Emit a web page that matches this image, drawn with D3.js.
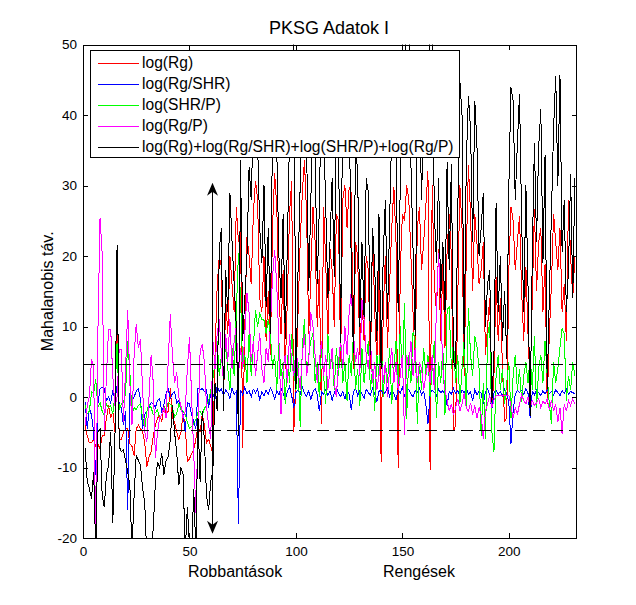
<!DOCTYPE html>
<html><head><meta charset="utf-8">
<script src="https://cdn.jsdelivr.net/npm/d3@7"></script>
<style>
body{margin:0;background:#fff}
svg{display:block}
text{font-family:"Liberation Sans",Arial,Helvetica,sans-serif;fill:#000}
</style>
</head><body>
<svg id="chart" width="636" height="605"></svg>
<script>
// ---------------- data ----------------
const title = "PKSG Adatok I";
const yLabel = "Mahalanobis táv.";
const groupLabels = ["Robbantások", "Rengések"];
const seriesNames = ["log(Rg)", "log(Rg/SHR)", "log(SHR/P)", "log(Rg/P)", "log(Rg)+log(Rg/SHR)+log(SHR/P)+log(Rg/P)"];
const seriesColors = ["#ff0000", "#0000ff", "#00ff00", "#ff00ff", "#000000"];
const xTicks = [0, 50, 100, 150, 200];
const yTicks = [-20, -10, 0, 10, 20, 30, 40, 50];
const xDomain = [0, 232];
const yDomain = [-20, 50];
const thresholds = [4.7, -4.7];
const boundaryX = 60.6;
const arrowSpan = [-19.4, 30.4];
const groupLabelX = [71.4, 157.8];

const logRg = [
-4,-5.5,-6.5,-6.5,-6,-7,-6.7,-7.3,-5.5,-5.5,
-3,-1.2,-3,-2,-5,13.8,-6,-6,-5,-4.5,
-4.5,-6.6,-7,-8.3,-4.5,-4,-4.5,-5,-6.5,-9.9,
-8.5,-7.8,-5.5,-4,-3,-2.6,-3.5,-1.2,-2.5,-2,
1.2,-3,-3.5,-5,-6,-5,-2.5,-4,-9.2,-8.8,
-8,-7.5,-6,-4,-5,-2.5,-4,-6.5,-6,-7,
-8,6,15.6,20,18.5,-1,14,9,20,16,
12,27,22,24,-7.3,10,22.7,20,16,26,
30.7,28,14,12,20,8,15,6,24,31.7,
27,14,9,18,4,14,26,30.7,-5,2,
12,22,29,33.6,26,9,17,27,22,10,
18,-3.8,27,19,8,21,18,10,26,25,
5,28,30,24,29.8,29,4,22,20,6,
14,8,20,18,4,24,12,5,18,-9.2,
12,20,7,16,24,29.8,22,-10,18,26,
25,30,28,20,12,5,24,27,18,22,
27,32,-10.4,30,16,12,21,8,19,7,
21,26,20,-4.8,-4,14,30,24,3,20,
32.9,26,15,26,22,16,18,22,6,10,
14,-2,3,17,8,14,4,-3.4,-3,18,
27,25,18,22,25.7,15,8,18.5,9,1.4,
14,26.6,15,22,24,12,18.9,-1,9,16,
26,22,18,24,12,16,8,28,20,14,
20];

const logRgSHR = [
-0.7,-4.5,-1.5,-2.6,-5,-11,-1,1.1,1.4,1.2,
-0.5,0,-0.8,1,-0.5,1.6,-1,-1.5,-4,-2,
-16,0.5,-0.5,0,0.8,1.2,-0.3,-4.5,-2.5,-2,
-1.5,-0.8,-1,-1.5,-0.5,-0.2,-2.2,-1,0.5,1.2,
-0.2,0.5,0.8,-0.8,-0.5,-1.5,-2.5,-5,-0.8,-1,
-2.5,-3.5,-4.5,1.2,1,1.2,0.8,1,-1.5,0.5,
0.5,-0.3,1.5,0.8,1.2,0.2,1,0.6,-0.2,1.3,
0.4,0.8,-18,1,0.3,1.4,0.5,0.9,0,1.1,
0.6,1.2,-0.5,0.8,0.2,1,0.4,1.3,0.7,-0.3,
0.9,0.3,1.2,0.5,-0.5,0.8,1.5,0.2,-1.5,0.6,
1,0.4,1.4,0.6,0.1,0.9,-0.4,0.7,1.2,0.3,
-2,0.8,0.4,1.1,0.2,0.9,-0.5,0.6,1.3,0.5,
0.1,0.8,-0.3,1,0.4,-1.8,0.7,1.2,0.2,0.9,
0.5,-0.2,1.1,0.6,0.3,1.2,0.4,-0.6,0.8,1,
0.3,0.7,1.3,0.1,0.9,0.5,-0.4,1,0.6,1.4,
0.2,0.8,1.1,0.4,0,0.9,0.6,1.2,0.3,0.8,
-1,-3.8,0.5,1,0.7,0.2,1.1,0.6,0.9,0.3,
-1.2,0.8,0.4,1.2,0.5,0.9,0.2,1,0.6,1.3,
0.4,0.8,-0.6,1.1,0.3,0.9,0.5,-1,0.7,1.2,
0.2,-1.8,0.6,1,0.4,0.8,0.2,1.1,0.5,-0.8,
-6.6,-2,0.4,1,0.6,0.9,0.3,1.2,0.5,-3,
0.8,0.3,1,0.6,0.2,0.9,0.4,1.1,0.5,0.8,
0.3,1,0.6,0.2,0.9,0.5,1.2,0.4,0.8,0.6,
0.5];

const logSHRP = [
-1.2,-2.4,-2,0.7,0.5,2.5,-1.5,-0.8,-2,-2.6,
-1,-1.5,-1.2,-2.4,0.3,7.7,-1.8,-1,-0.8,0.5,
8,3.6,-2.4,-1.5,-1.8,-1.2,-1,-3,-4.5,-2,
-1,-1.5,-2.5,-2.2,-1.8,-3,-2.5,-1.5,-1.8,-0.8,
-1,-1.5,-2.8,-2.4,-1,-1.8,-2,-2.5,-3.5,-4.5,
-4.2,-3.8,-3.2,-2.2,-2,-2.6,-1.6,-1.2,-0.5,1,
2.5,5,8,3,6,2.5,8,4,1,7,
3,12,20.4,14,4,6,2,9,3,7,
12.4,10,11.8,11,10.9,9,11,9,4,6,
1,8,3,5,-1,6,2,9,4,1,
5,-4.2,7,11,3,6,8,9,2,5,
0,7,3,-1,9,4,6,1,7,3,
8,2,5,-0.5,6,3,9,1,4,-1.3,
7,2,5,8,1,4,-2,6,3,9,
0,5,2,7,-1,4,8,1,10,3,
13.4,-3.1,6,2,9.2,8,-3.8,5,1,7,
3,6,0,4,8,-3,5,2,7,-2.5,
12.4,12.7,4,8,2,6,-1,4,8,-1.5,
12.6,6,3,8.6,7.2,4,-5.5,2,-6,8.6,
10.6,-4.8,-7.8,3,6,1,4,-1,2,5,
-3,3,6,1,4,-0.7,3,5,2,6,
1,8.6,-1.5,4,6,2,8,3,-1,-3.8,
5,2,4,7,9.7,9,-0.5,3,1,5,
3];

const logRgP = [
-4,-1.2,0,5.4,4.4,-22,9.2,25.4,20.4,-5,
3,9.6,9.6,3,-1.3,0,6.8,6.8,-3.5,4,
12.4,2,-4,6,10.3,7,8.2,1,-5,-6.3,
0,6,2,-8.7,-5,-3,-2.5,-1.5,-3,5,
11.7,6,2,3.5,0,-1.3,-3,-2,4,8.5,
0,-8,-16.5,-5,6.5,7.5,5,-1.3,-4,-6,
8,4,9,11,6,2,9,5,11,4,
8,10,3,7,4,9,14.8,12,5,8,
3,6,9,4,2,7,5,10,17,20.9,
15.7,8,-2.4,4,6,2,9,5,3,7,
4,1,6,9,3,5,12,10,6,2,
5,8,3,6,1,4,7,2,0,5,
8,4,10,6,12,15,9,5,7,3,
13.8,11,6,4,8,2,5,1,3,6,
2,5,0,4,7,2,5,1,3,6,
-5.4,6,4,8,3,7,2,5,4,1,
3,5,2,6,1,13,20.4,13,4,1,
-0.5,-2,-1,-2.6,-1.5,-0.3,-2,-1,0.5,-1.5,
-2,-0.8,-2.5,-1.2,-3,-1.5,-2.5,-6,-2,-1,
0.3,-1.5,-0.5,0.2,0.2,0.2,0.2,0.2,0.2,0.2,
-1.2,-3,-1.5,-2.5,-1,0.3,-0.5,-1,0,-1.5,
-0.5,-1.2,-0.8,-0.2,-1.5,-0.6,-1,-0.3,-1.8,-0.5,
-2,-1,-3.5,-1.5,-5.2,-1,-2,-0.5,-1.2,-0.3,
-1];

const logSum = [
-7.3,-12,-13,-14.4,-10.6,-22,-5,-4.5,-14,-15.6,
-11,-9.7,-5,-17.8,-6,21.6,-7,-7.8,-7.5,-9,
-10.6,-12.5,-22,-14,-8.2,-9,-9.7,-13,-15,-23,
-25,-21,-18.7,-12,-9.2,-10,-8,-11,-9,-8.5,
-6,-1.2,-5,-7.8,-12.5,-10,-11,-22,-15.6,-21,
-23,-13,-22,-3,-12,-2,-6,-14,-16,-12,
-10.5,2,-2,21,24,-2,18,12,29,22,
16,10,-5.5,33.6,8,14,20,32.6,28,40,
46,36,24,19,30,12.8,24,9,38,44,
35,20,14,26,8.2,22,37,42,52,1.1,
18,30,41,48,36,15,28,39,35,16,
27,45,38,27,14,22,31,17,40,36,
7.7,44,47,39,42,18,6.3,36,31.7,10,
22,11.4,31,29,6,24,18.5,8,26,4,
20,28,11,25,38,44,36,12,30,53,
40,55,54,33,21,8.6,38,43,28,41,
47,36,51,52,26,19,31,14,22,12,
33.4,18,33,5,4,26,44.8,40,6.8,33,
42.7,38,22,42,36,20,24,29,10,16,
18,-0.7,6,27.5,12,20,8,15,5.4,30,
43.9,42,28,36,43,25,12,30,15.7,-2.7,
20,36,22,35.4,40.8,19,34.3,1.1,14.2,26,
38,45.6,30,45.7,20.5,28,12,18,31.7,14,
31];

const seriesValues = [logRg, logRgSHR, logSHRP, logRgP, logSum];

// ---------------- drawing ----------------
(function draw() {
const svg = d3.select("#chart");
const pL = 83, pR = 577, pT = 44.5, pB = 538;
const x = d3.scaleLinear().domain(xDomain).range([pL, pR]);
const y = d3.scaleLinear().domain(yDomain).range([pB, pT]);
const font = '"Liberation Sans",Arial,Helvetica,sans-serif';

svg.append("rect").attr("width", 636).attr("height", 605).attr("fill", "#fff");

svg.append("defs").append("clipPath").attr("id", "plotclip")
  .append("rect").attr("x", pL).attr("y", pT).attr("width", pR - pL).attr("height", pB - pT);

const plot = svg.append("g").attr("clip-path", "url(#plotclip)");

const line = d3.line().x((d, i) => x(i + 1)).y(d => y(d));
seriesValues.forEach((vals, k) => {
  plot.append("path").datum(vals)
    .attr("fill", "none").attr("stroke", seriesColors[k]).attr("stroke-width", 1)
    .attr("shape-rendering", "crispEdges")
    .attr("stroke-linejoin", "miter").attr("d", line);
});

thresholds.forEach(t => {
  plot.append("line").attr("x1", pL).attr("x2", pR)
    .attr("y1", Math.round(y(t)) + 0.5).attr("y2", Math.round(y(t)) + 0.5)
    .attr("stroke", "#000").attr("stroke-width", 1).attr("shape-rendering", "crispEdges")
    .attr("stroke-dasharray", "12,6");
});

const ax = Math.round(x(boundaryX)) + 0.5;
const yTopA = y(arrowSpan[1]), yBotA = y(arrowSpan[0]);
plot.append("line").attr("x1", ax).attr("x2", ax).attr("y1", yTopA + 4).attr("y2", yBotA - 4)
  .attr("stroke", "#000").attr("stroke-width", 1.5).attr("shape-rendering", "crispEdges");
plot.append("path").attr("fill", "#000")
  .attr("d", `M${ax},${yTopA} L${ax - 5.5},${yTopA + 13} L${ax},${yTopA + 9} L${ax + 5.5},${yTopA + 13} Z`);
plot.append("path").attr("fill", "#000")
  .attr("d", `M${ax},${yBotA} L${ax - 5.5},${yBotA - 13} L${ax},${yBotA - 9} L${ax + 5.5},${yBotA - 13} Z`);

const tickFont = 13.5;
const gB = svg.append("g").attr("transform", `translate(0,${pB})`)
  .call(d3.axisBottom(x).tickValues(xTicks).tickSizeInner(-5).tickSizeOuter(0).tickPadding(8).tickFormat(d3.format("d")));
const gT = svg.append("g").attr("transform", `translate(0,${pT})`)
  .call(d3.axisTop(x).tickValues(xTicks).tickSizeInner(-5).tickSizeOuter(0).tickFormat(""));
const gL = svg.append("g").attr("transform", `translate(${pL},0)`)
  .call(d3.axisLeft(y).tickValues(yTicks).tickSizeInner(-5).tickSizeOuter(0).tickPadding(6).tickFormat(d3.format("d")));
const gR = svg.append("g").attr("transform", `translate(${pR},0)`)
  .call(d3.axisRight(y).tickValues(yTicks).tickSizeInner(-5).tickSizeOuter(0).tickFormat(""));
[gB, gT, gL, gR].forEach(g => {
  g.select(".domain").remove();
  g.selectAll("line").attr("stroke", "#000").attr("shape-rendering", "crispEdges");
  g.selectAll("text").attr("font-family", font).attr("font-size", tickFont).attr("fill", "#000");
});
gL.selectAll("text").text(d => d < 0 ? "-" + Math.abs(d) : d);

svg.append("rect").attr("x", pL + 0.5).attr("y", Math.round(pT) + 0.5)
  .attr("width", pR - pL - 1).attr("height", Math.round(pB) - Math.round(pT))
  .attr("fill", "none").attr("stroke", "#000").attr("stroke-width", 1).attr("shape-rendering", "crispEdges");

const lg = svg.append("g");
lg.append("rect").attr("x", 90.5).attr("y", 50.5).attr("width", 369).attr("height", 107)
  .attr("fill", "#fff").attr("stroke", "#000").attr("stroke-width", 1).attr("shape-rendering", "crispEdges");
seriesNames.forEach((name, k) => {
  const ry = 62.5 + k * 21;
  lg.append("line").attr("x1", 98).attr("x2", 139).attr("y1", Math.round(ry) + 0.5).attr("y2", Math.round(ry) + 0.5)
    .attr("stroke", seriesColors[k]).attr("stroke-width", 1).attr("shape-rendering", "crispEdges");
  lg.append("text").attr("x", 142).attr("y", ry + 5.8).attr("font-size", 15.6).attr("font-family", font).text(name);
});

svg.append("text").attr("x", 329).attr("y", 34).attr("text-anchor", "middle")
  .attr("font-size", 18).attr("font-family", font).text(title);
svg.append("text").attr("transform", `translate(53,${(pT + pB) / 2}) rotate(-90)`)
  .attr("text-anchor", "middle").attr("font-size", 16).attr("font-family", font).text(yLabel);
groupLabels.forEach((g, i) => {
  svg.append("text").attr("x", x(groupLabelX[i])).attr("y", 577).attr("text-anchor", "middle")
    .attr("font-size", 16).attr("font-family", font).text(g);
});
})();
</script>
</body></html>
